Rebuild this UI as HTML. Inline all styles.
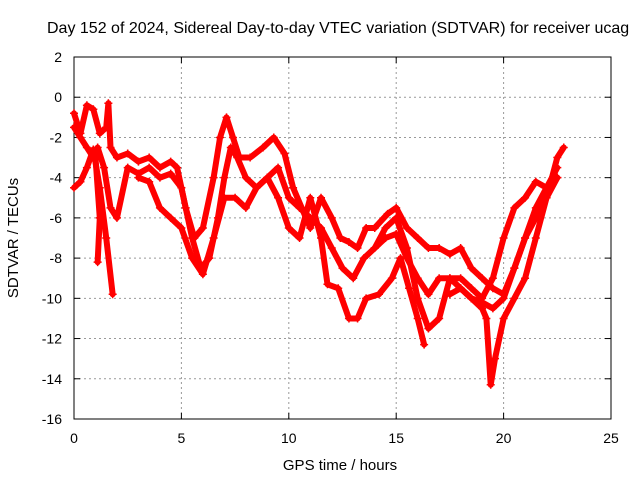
<!DOCTYPE html>
<html><head><meta charset="utf-8"><style>
body{margin:0;background:#fff;}
svg{display:block;font-family:"Liberation Sans",sans-serif;}
</style></head><body>
<svg id="chart" width="640" height="480">
<rect width="640" height="480" fill="#fff"/>
<text x="47" y="33" font-size="16" text-anchor="start">Day 152 of 2024, Sidereal Day-to-day VTEC variation (SDTVAR) for receiver ucag</text>
<g id="grid"></g><g id="axes"></g><g id="series"></g>
<text x="340" y="470" font-size="15" text-anchor="middle">GPS time / hours</text>
<text transform="translate(18,238) rotate(-90)" font-size="15" text-anchor="middle">SDTVAR / TECUs</text>
</svg>
<script>
const xTicks=[0,5,10,15,20,25];
const yTicks=[2,0,-2,-4,-6,-8,-10,-12,-14,-16];
const s1=[[0,-0.8],[0.3,-1.8],[0.6,-0.4],[0.9,-0.6],[1.2,-1.8],[1.5,-1.5],[1.6,-0.3],[1.7,-2.5],[2.0,-3.0],[2.5,-2.8],[3.0,-3.2],[3.5,-3.0],[4.0,-3.5],[4.5,-3.2],[4.8,-3.5],[5.2,-5.5],[5.6,-7.0],[6.0,-6.5],[6.5,-4.0],[6.8,-2.0],[7.1,-1.0],[7.4,-2.0],[7.7,-3.0],[8.2,-3.0],[8.8,-2.5],[9.3,-2.0],[9.8,-2.8],[10.2,-4.5],[10.6,-5.5],[11.0,-6.5],[11.5,-5.0],[12.0,-6.0],[12.4,-7.0],[12.8,-7.2],[13.2,-7.5],[13.6,-6.5],[14.0,-6.5],[14.6,-5.8],[15.0,-5.5],[15.5,-6.5],[16.0,-7.0],[16.5,-7.5],[17.0,-7.5],[17.5,-7.8],[18.0,-7.5],[18.5,-8.5],[19.0,-9.0],[19.5,-9.5],[20.0,-9.8],[20.5,-8.5],[21.0,-7.0],[21.5,-6.0],[22.0,-5.0],[22.5,-3.0],[22.8,-2.5]];
const s2=[[0,-1.5],[0.3,-2],[0.6,-2.5],[0.9,-3],[1.1,-2.5],[1.4,-3.5],[1.7,-5.5],[2,-6],[2.5,-3.5],[3,-3.8],[3.5,-3.5],[4,-4],[4.5,-3.8],[5,-4.5],[5.5,-7],[5.9,-8.5],[6.3,-8],[6.7,-6],[7,-4],[7.3,-2.5],[7.6,-3],[8,-4],[8.5,-4.5],[9,-4],[9.5,-3.5],[10,-5],[10.5,-5.5],[11,-6],[11.5,-6.5],[12,-7.5],[12.5,-8.5],[13,-9],[13.5,-8],[14,-7.5],[14.5,-7],[15,-6.8],[15.5,-8],[16,-9],[16.5,-9.8],[17,-9],[17.5,-9],[18,-9.5],[18.5,-10],[19,-10.2],[19.5,-10.5],[20,-10],[20.5,-8.5],[21,-7],[21.5,-5.5],[22,-4.5],[22.5,-4]];
const s3=[[0,-4.5],[0.3,-4.2],[0.6,-3.5],[0.9,-2.6],[1.2,-4.5],[1.5,-7],[1.8,-9.8]];
const s4=[[3,-4],[3.5,-4.2],[4,-5.5],[4.5,-6],[5,-6.5],[5.5,-8],[6,-8.8],[6.5,-7],[7,-5],[7.5,-5],[8,-5.5],[8.5,-4.5],[9,-4],[9.5,-5],[10,-6.5],[10.5,-7],[11,-5],[11.5,-7],[11.8,-9.3],[12.3,-9.5],[12.8,-11],[13.2,-11],[13.6,-10],[14.2,-9.8],[14.8,-9],[15.2,-8],[15.6,-9.5],[16,-11],[16.3,-12.3]];
const s5=[[14,-7.5],[14.5,-6.5],[15,-6],[15.5,-7.5],[16,-10],[16.5,-11.5],[17,-11],[17.5,-9],[18,-9],[18.5,-9.5],[19,-10],[19.5,-9],[20,-7],[20.5,-5.5],[21,-5],[21.5,-4.2],[22,-4.5],[22.5,-3.5]];
const s6=[[1.0,-3],[1.2,-6],[1.1,-8.2]];
const s7=[[17.5,-9.8],[18,-9.5],[18.5,-10],[19,-10.5],[19.2,-11],[19.4,-14.3],[19.6,-13],[20,-11],[20.5,-10],[21,-9],[21.5,-7],[22,-5],[22.5,-4]];
const allSeries=[s1,s2,s3,s4,s5,s6,s7];
const NS="http://www.w3.org/2000/svg";
const X0=74,X1=611,Y0=57,Y1=419;
function xs(v){return X0+(v-0)/(25-0)*(X1-X0);}
function ys(v){return Y0+(2-v)/(2-(-16))*(Y1-Y0);}
function mk(tag,at,parent){const e=document.createElementNS(NS,tag);for(const k in at)e.setAttribute(k,at[k]);parent.appendChild(e);return e;}
const grid=document.getElementById('grid'),axes=document.getElementById('axes'),ser=document.getElementById('series');
xTicks.forEach(t=>{
  if(t>0&&t<25){const g=mk('line',{x1:xs(t),x2:xs(t),y1:Y0,y2:Y1,stroke:'#999','stroke-dasharray':'2,3'},grid);
  
  }
  const l=mk('text',{x:xs(t),y:Y1+24,'font-size':14,'text-anchor':'middle'},axes);l.textContent=t;
  
  
  mk('line',{x1:xs(t),x2:xs(t),y1:Y1,y2:Y1-6,stroke:'#000'},axes);
  mk('line',{x1:xs(t),x2:xs(t),y1:Y0,y2:Y0+6,stroke:'#000'},axes);
});
yTicks.forEach(t=>{
  if(t<2&&t>-16){const g=mk('line',{x1:X0,x2:X1,y1:ys(t),y2:ys(t),stroke:'#999','stroke-dasharray':'2,3'},grid);
  
  }
  const l=mk('text',{x:X0-12,y:ys(t)+5,'font-size':14,'text-anchor':'end'},axes);l.textContent=t;
  
  
  mk('line',{x1:X0,x2:X0+6,y1:ys(t),y2:ys(t),stroke:'#000'},axes);
  mk('line',{x1:X1,x2:X1-6,y1:ys(t),y2:ys(t),stroke:'#000'},axes);
});
const fr=mk('rect',{x:X0,y:Y0,width:X1-X0,height:Y1-Y0,fill:'none',stroke:'#000'},axes);


allSeries.forEach((s,i)=>{
  const g=mk('g',{},ser);
  
  
  mk('polyline',{points:s.map(p=>xs(p[0])+','+ys(p[1])).join(' '),fill:'none',stroke:'#f00','stroke-width':6,'stroke-linejoin':'round','stroke-linecap':'round'},g);
  s.forEach(p=>{
    const m=mk('path',{d:`M${xs(p[0])-4},${ys(p[1])}h8M${xs(p[0])},${ys(p[1])-4}v8`,stroke:'#f00','stroke-width':1.5},g);
    
    
  });
});
</script>
</body></html>
